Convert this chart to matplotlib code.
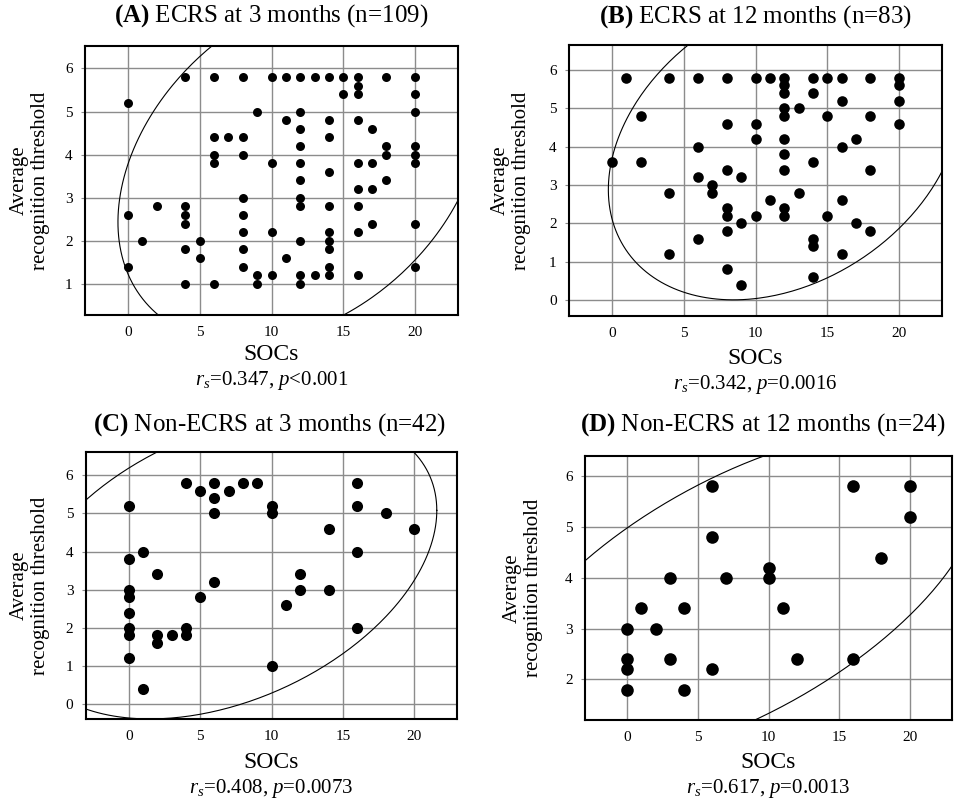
import numpy as np
import matplotlib
matplotlib.use("Agg")
import matplotlib.pyplot as plt

plt.rcParams['font.family'] = ['Liberation Serif', 'DejaVu Serif']
plt.rcParams['mathtext.fontset'] = 'custom'
plt.rcParams['mathtext.rm'] = 'Liberation Serif'
plt.rcParams['mathtext.it'] = 'Liberation Serif:italic'
plt.rcParams['mathtext.bf'] = 'Liberation Serif:bold'

# ---------------- data ----------------
# (A) ECRS at 3 months
a_x = [0, 0, 0,
       1, 2,
       4, 4, 4, 4, 4, 4,
       5, 5,
       6, 6, 6, 6, 6,
       7,
       8, 8, 8, 8, 8, 8, 8, 8,
       9, 9, 9,
       10, 10, 10, 10,
       11, 11, 11,
       12, 12, 12, 12, 12, 12, 12, 12, 12, 12, 12,
       13, 13,
       14, 14, 14, 14, 14, 14, 14, 14, 14, 14,
       15, 15,
       16, 16, 16, 16, 16, 16, 16, 16, 16,
       17, 17, 17, 17,
       18, 18, 18, 18,
       20, 20, 20, 20, 20, 20, 20, 20]
a_y = [5.2, 2.6, 1.4,
       2.0, 2.8,
       5.8, 2.8, 2.6, 2.4, 1.8, 1.0,
       2.0, 1.6,
       5.8, 4.4, 4.0, 3.8, 1.0,
       4.4,
       5.8, 4.4, 4.0, 3.0, 2.6, 2.2, 1.8, 1.4,
       5.0, 1.2, 1.0,
       5.8, 3.8, 2.2, 1.2,
       5.8, 4.8, 1.6,
       5.8, 5.0, 4.6, 4.2, 3.8, 3.4, 3.0, 2.8, 2.0, 1.2, 1.0,
       5.8, 1.2,
       5.8, 4.8, 4.4, 3.6, 2.8, 2.2, 2.0, 1.8, 1.4, 1.2,
       5.8, 5.4,
       5.8, 5.6, 5.4, 4.8, 3.8, 3.2, 2.8, 2.2, 1.2,
       4.6, 3.8, 3.2, 2.4,
       5.8, 4.2, 4.0, 3.4,
       5.8, 5.4, 5.0, 4.2, 4.0, 3.8, 2.4, 1.4]

# (B) ECRS at 12 months
b_x = [0, 1,
       2, 2,
       4, 4, 4,
       6, 6, 6, 6,
       7, 7,
       8, 8, 8, 8, 8, 8, 8,
       9, 9, 9,
       10, 10, 10, 10,
       11, 11,
       12, 12, 12, 12, 12, 12, 12, 12, 12, 12,
       13, 13,
       14, 14, 14, 14, 14, 14,
       15, 15, 15,
       16, 16, 16, 16, 16,
       17, 17,
       18, 18, 18, 18,
       20, 20, 20, 20]
b_y = [3.6, 5.8,
       4.8, 3.6,
       5.8, 2.8, 1.2,
       5.8, 4.0, 3.2, 1.6,
       3.0, 2.8,
       5.8, 4.6, 3.4, 2.4, 2.2, 1.8, 0.8,
       3.2, 2.0, 0.4,
       5.8, 4.6, 4.2, 2.2,
       5.8, 2.6,
       5.8, 5.6, 5.4, 5.0, 4.8, 4.2, 3.8, 3.4, 2.4, 2.2,
       5.0, 2.8,
       5.8, 5.4, 3.6, 1.6, 1.4, 0.6,
       5.8, 4.8, 2.2,
       5.8, 5.2, 4.0, 2.6, 1.2,
       4.2, 2.0,
       5.8, 4.8, 3.4, 1.8,
       5.8, 5.6, 5.2, 4.6]

# (C) Non-ECRS at 3 months
c_x = [0, 0, 0, 0, 0, 0, 0, 0,
       1, 1,
       2, 2, 2,
       3,
       4, 4, 4,
       5, 5,
       6, 6, 6, 6,
       7, 8, 9,
       10, 10, 10,
       11,
       12, 12,
       14, 14,
       16, 16, 16, 16,
       18, 20]
c_y = [5.2, 3.8, 3.0, 2.8, 2.4, 2.0, 1.8, 1.2,
       4.0, 0.4,
       3.4, 1.8, 1.6,
       1.8,
       5.8, 2.0, 1.8,
       5.6, 2.8,
       5.8, 5.4, 5.0, 3.2,
       5.6, 5.8, 5.8,
       5.2, 5.0, 1.0,
       2.6,
       3.4, 3.0,
       4.6, 3.0,
       5.8, 5.2, 4.0, 2.0,
       5.0, 4.6]

# (D) Non-ECRS at 12 months
d_x = [0, 0, 0, 0,
       1, 2,
       3, 3,
       4, 4,
       6, 6, 6,
       7,
       10, 10,
       11, 12,
       16, 16,
       18,
       20, 20]
d_y = [3.0, 2.4, 2.2, 1.8,
       3.4, 3.0,
       4.0, 2.4,
       3.4, 1.8,
       5.8, 4.8, 2.2,
       4.0,
       4.2, 4.0,
       3.4, 2.4,
       5.8, 2.4,
       4.4,
       5.8, 5.2]

# 95% ellipse statistics (mean x, mean y, sd x, sd y, r)
# (overlapping points are hidden in the scatter); None = computed from data
ell_a = [12.0, 3.75, 5.19, 1.68, 0.32]
ell_b = [12.03, 4.05, 5.02, 1.654, 0.29]
ell_c = None
ell_d = [7.8, 3.62, 7.0, 1.34, 0.62]

titles_bold = ["(A)", "(B)", "(C)", "(D)"]
titles_rest = ["ECRS at 3 months (n=109)", "ECRS at 12 months (n=83)",
               "Non-ECRS at 3 months (n=42)", "Non-ECRS at 12 months (n=24)"]
stats = [r"$r_s$=0.347, $p$<0.001", r"$r_s$=0.342, $p$=0.0016",
         r"$r_s$=0.408, $p$=0.0073", r"$r_s$=0.617, $p$=0.0013"]
x_ticks = [0, 5, 10, 15, 20]

# ---------------- layout (pixels) ----------------
W, H = 968, 799
fig = plt.figure(figsize=(W / 100, H / 100), dpi=100)

def fx(px):
    return px / W

def fy(py):
    return 1 - py / H

panels = [
    dict(x=a_x, y=a_y, ell=ell_a, box=(85, 46, 458, 315), ylim=(0.28, 6.52), yt=[1, 2, 3, 4, 5, 6],
         ms=42, title=(271, 16), ylab=30, xl=355, st=380),
    dict(x=b_x, y=b_y, ell=ell_b, box=(569, 45, 942, 316), ylim=(-0.42, 6.65), yt=[0, 1, 2, 3, 4, 5, 6],
         ms=58, title=(755, 17), ylab=511, xl=358, st=385),
    dict(x=c_x, y=c_y, ell=ell_c, box=(86, 452, 457, 719), ylim=(-0.39, 6.61), yt=[0, 1, 2, 3, 4, 5, 6],
         ms=64, title=(270, 425), ylab=30, xl=762, st=788),
    dict(x=d_x, y=d_y, ell=ell_d, box=(585, 456, 952, 720), ylim=(1.2, 6.4), yt=[2, 3, 4, 5, 6],
         ms=82, title=(763, 425), ylab=523, xl=763, st=788),
]

chi2_95 = 5.991

for i, p in enumerate(panels):
    l, t, r, b = p["box"]
    ax = fig.add_axes([fx(l), fy(b), fx(r) - fx(l), fy(t) - fy(b)])
    x = np.asarray(p["x"], float)
    y = np.asarray(p["y"], float)
    ax.scatter(x, y, s=p["ms"], color="black", zorder=3, linewidths=0)

    # 95% ellipse
    if p["ell"] is None:
        mu = np.array([x.mean(), y.mean()])
        cov = np.cov(x, y)
    else:
        mxe, mye, sxe, sye, re = p["ell"]
        mu = np.array([mxe, mye])
        cov = np.array([[sxe ** 2, re * sxe * sye], [re * sxe * sye, sye ** 2]])
    L = np.linalg.cholesky(cov)
    tt = np.linspace(0, 2 * np.pi, 400)
    circ = np.vstack([np.cos(tt), np.sin(tt)]) * np.sqrt(chi2_95)
    ell = L @ circ + mu[:, None]
    ax.plot(ell[0], ell[1], color="black", lw=0.8, zorder=2)

    ax.set_xlim(-3, 23)
    ax.set_ylim(*p["ylim"])
    ax.set_xticks(x_ticks)
    ax.set_yticks(p["yt"])
    ax.grid(True, color="#8c8c8c", lw=1.0)
    ax.set_axisbelow(True)
    for s in ax.spines.values():
        s.set_linewidth(1.5)
        s.set_color("black")
    ax.tick_params(axis="x", length=0, pad=8, labelsize=11)
    ax.tick_params(axis="y", length=3, color="#8c8c8c", pad=6, labelsize=11)

    cx = (l + r) / 2
    fig.text(fx(p["title"][0]), fy(p["title"][1]),
             r"$\mathbf{" + titles_bold[i] + "}$ " + titles_rest[i],
             ha="center", va="center", fontsize=18)
    fig.text(fx(p["ylab"]), fy((t + b) / 2), "Average\nrecognition threshold",
             rotation=90, ha="center", va="center", fontsize=15, multialignment="center")
    fig.text(fx(cx), fy(p["xl"]), "SOCs", ha="center", va="center", fontsize=17)
    fig.text(fx(cx), fy(p["st"]), stats[i], ha="center", va="center", fontsize=15)

fig.savefig("out.png", dpi=100)
